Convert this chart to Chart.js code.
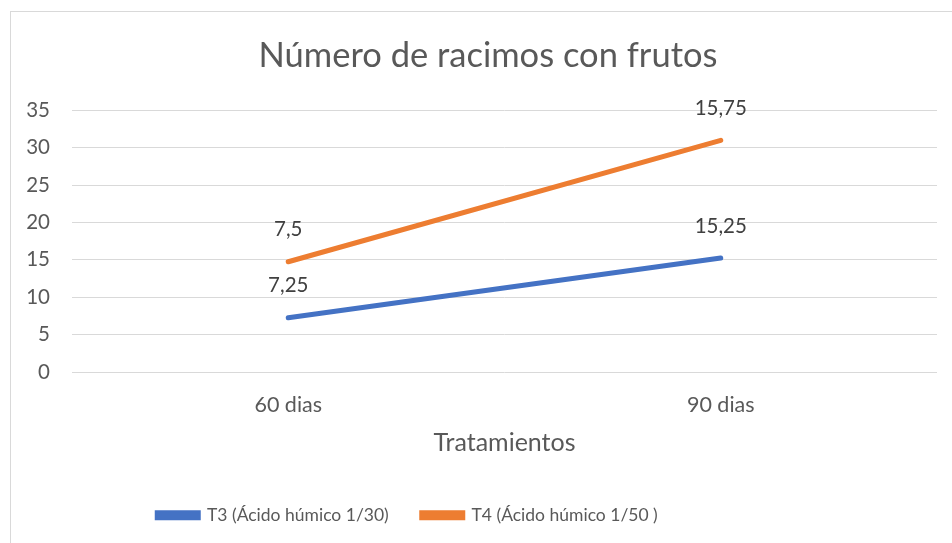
<!DOCTYPE html>
<html>
<head>
<meta charset="utf-8">
<script src="https://cdn.jsdelivr.net/npm/chart.js@4/dist/chart.umd.min.js"></script>
<style>
  html, body { margin: 0; padding: 0; background: #fff; overflow: hidden; }
  #wrap { position: relative; width: 952px; height: 543px; }
  #frame { position: absolute; left: 10px; top: 11px; width: 980px; height: 580px; border: 1px solid #d9d9d9; box-sizing: border-box; }
  canvas { position: absolute; left: 0; top: 0; }
</style>
</head>
<body>
<div id="wrap">
  <div id="frame"></div>
  <canvas id="chart" width="952" height="543"></canvas>
</div>
<script>
'use strict';

/* ── DATA ── */
const categories = ['60 dias', '90 dias'];
const seriesNames = ['T3 (Ácido húmico 1/30)', 'T4 (Ácido húmico 1/50 )'];
const t3Values = [7.25, 15.25];
const t4Values = [7.5, 15.75];
const seriesColors = ['#4472C4', '#ED7D31'];
const yTicks = [0, 5, 10, 15, 20, 25, 30, 35];

const FONT = 'Lato, "Open Sans", sans-serif';
const TEXT = '#595959';

/* ── DATA LABELS (value above each point) ── */
const pointLabels = {
  id: 'pointLabels',
  afterDatasetsDraw(chart) {
    const ctx = chart.ctx;
    ctx.save();
    ctx.font = '20.5px ' + FONT;
    ctx.fillStyle = '#404040';
    ctx.textAlign = 'center';
    ctx.textBaseline = 'middle';
    chart.data.datasets.forEach((ds, i) => {
      chart.getDatasetMeta(i).data.forEach((pt, j) => {
        const txt = String(ds.data[j]).replace('.', ',');
        ctx.fillText(txt, pt.x, pt.y - 32);
      });
    });
    ctx.restore();
  }
};

// the original chart is wider than the crop: title sits right, legend left of centre
const boxShift = {
  id: 'boxShift',
  afterLayout(chart) {
    chart.titleBlock.left += 19.5;
    chart.titleBlock.right += 19.5;
    chart.legend.left -= 61;
    chart.legend.right -= 61;
  }
};

new Chart(document.getElementById('chart'), {
  type: 'line',
  data: {
    labels: categories,
    datasets: [
      {
        label: seriesNames[0],
        data: t3Values,
        borderColor: seriesColors[0],
        backgroundColor: seriesColors[0],
        borderWidth: 5,
        borderCapStyle: 'round',
        pointRadius: 0,
        fill: false,
        tension: 0
      },
      {
        label: seriesNames[1],
        data: t4Values,
        borderColor: seriesColors[1],
        backgroundColor: seriesColors[1],
        borderWidth: 5,
        borderCapStyle: 'round',
        pointRadius: 0,
        fill: false,
        tension: 0
      }
    ]
  },
  options: {
    responsive: false,
    animation: false,
    layout: { padding: { left: 0, right: 15, top: 0, bottom: 9 } },
    plugins: {
      title: {
        display: true,
        text: 'Número de racimos con frutos',
        color: TEXT,
        font: { family: FONT, size: 34.5, weight: 'normal' },
        padding: { top: 35, bottom: 34 }
      },
      legend: {
        position: 'bottom',
        labels: {
          color: TEXT,
          font: { family: FONT, size: 17.5 },
          boxWidth: 41,
          boxHeight: 5,
          padding: 33
        }
      },
      tooltip: { enabled: false }
    },
    scales: {
      x: {
        offset: true,
        afterFit(scale) { scale.height = 101.5; },
        grid: { display: false, drawTicks: false },
        border: { display: false },
        ticks: { color: TEXT, font: { family: FONT, size: 21.5 }, padding: 20 },
        title: {
          display: true,
          text: 'Tratamientos',
          color: TEXT,
          font: { family: FONT, size: 25 },
          padding: { top: 0, bottom: 16 }
        }
      },
      y: {
        stacked: true,
        min: 0,
        max: 35,
        afterFit(scale) { scale.width = 72; },
        afterBuildTicks(scale) { scale.ticks = yTicks.map(v => ({ value: v })); },
        grid: { color: '#d9d9d9', lineWidth: 1, drawTicks: false },
        border: { display: false },
        ticks: { color: TEXT, font: { family: FONT, size: 20.5 }, padding: 22 }
      }
    }
  },
  plugins: [pointLabels, boxShift]
});
</script>
</body>
</html>
